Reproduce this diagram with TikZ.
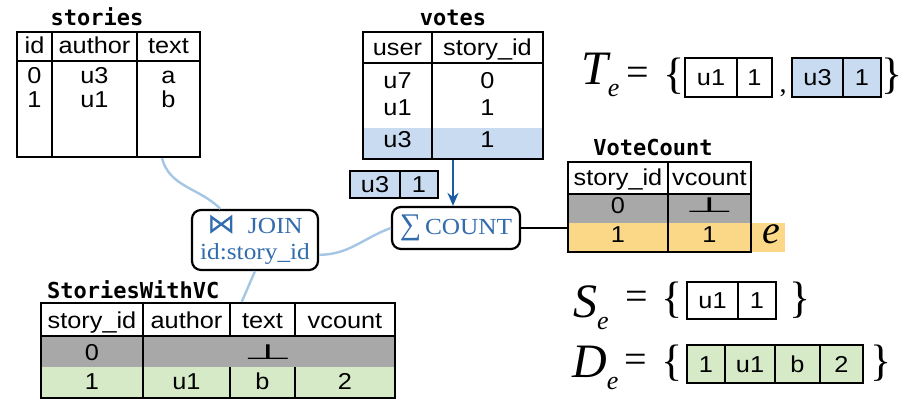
\documentclass[tikz,border=0pt]{standalone}
\usepackage{fontspec}
\setmainfont[FakeStretch=1.1]{Liberation Serif}
\newfontfamily\tabfont[FakeStretch=1.1]{Liberation Sans}
\newfontfamily\titlefont{DejaVu Sans Mono}
\newfontfamily\eqfont{Liberation Serif}
\newfontfamily\symfont{DejaVu Sans}
\usetikzlibrary{arrows.meta}
\definecolor{opblue}{RGB}{50,108,172}
\definecolor{arrowblue}{RGB}{28,92,165}
\definecolor{flowblue}{RGB}{165,198,228}
\definecolor{rowblue}{RGB}{200,219,240}
\definecolor{rowgray}{RGB}{168,168,168}
\definecolor{rowyellow}{RGB}{251,216,135}
\definecolor{rowgreen}{RGB}{214,234,200}

\newcommand{\nullval}{{\symfont\fontsize{30}{30}\selectfont\scalebox{1.9}[0.7]{⊥}}}

\tikzset{
  tbl/.style={draw, line width=2.4pt, inner sep=0pt},
  grid/.style={line width=2.4pt},
  thin grid/.style={line width=1.6pt},
  cell/.style={inner sep=0pt, text height=16pt, text depth=0pt, font=\tabfont\fontsize{23}{23}\selectfont},
  ttl/.style={inner sep=0pt, text height=16pt, text depth=0pt, font=\titlefont\bfseries\fontsize{22}{22}\selectfont},
  op/.style={draw, line width=2.2pt, rounded corners=9pt, fill=white, text=opblue, inner sep=0pt, align=center, font=\fontsize{23}{26}\selectfont},
  flow/.style={draw=flowblue, line width=2.4pt},
  eq/.style={inner sep=0pt, anchor=base, font=\eqfont\fontsize{40}{40}\selectfont},
  brace/.style={inner sep=0pt, anchor=base, font=\eqfont\fontsize{44}{44}\selectfont},
  eqvar/.style={inner sep=0pt, anchor=base west, font=\eqfont\itshape\fontsize{48}{48}\selectfont},
}
\newcommand{\subvar}[2]{#1\raisebox{-12pt}{\fontsize{26}{26}\selectfont #2}}

\begin{document}
\begin{tikzpicture}[x=1pt,y=-1pt]
\useasboundingbox (0,0) rectangle (902,401);

% stories
\node[ttl] (stories-title) at (97,18) {stories};
\node[tbl, minimum width=183pt, minimum height=125pt] (stories) at (108.5,94.5) {};
\draw[grid] (17,61) -- (200,61) (52,32) -- (52,157) (137,32) -- (137,157);
\foreach \x/\h/\a/\b [count=\i] in {34.5/id/0/1,94.5/author/u3/u1,168.5/text/a/b} {
  \node[cell] (stories-h\i) at (\x,46) {\h};
  \node[cell] (stories-a\i) at (\x,76) {\a};
  \node[cell] (stories-b\i) at (\x,100) {\b};
}

% votes
\fill[rowblue] (363,128) rectangle (543,159);
\node[ttl] (votes-title) at (453,18) {votes};
\node[tbl, minimum width=180pt, minimum height=127pt] (votes) at (453,95.5) {};
\draw[grid] (363,63) -- (543,63) (432,32) -- (432,159);
\foreach \x/\h/\a/\b/\c [count=\i] in {397.5/user/u7/u1/u3,487.5/story\_id/0/1/1} {
  \node[cell] (votes-h\i) at (\x,47.5) {\h};
  \node[cell] (votes-a\i) at (\x,81) {\a};
  \node[cell] (votes-b\i) at (\x,107.5) {\b};
  \node[cell] (votes-c\i) at (\x,140) {\c};
}

% new vote
\node[tbl, fill=rowblue, minimum width=88pt, minimum height=27pt] (delta) at (394,184.5) {};
\draw[grid] (400,171) -- (400,198);
\node[cell] (delta-a) at (375,184.5) {u3};
\node[cell] (delta-b) at (419,184.5) {1};

% VoteCount
\fill[rowgray] (568,194) rectangle (751,223);
\fill[rowyellow] (568,223) rectangle (785,252);
\node[ttl] (vc-title) at (653,148) {VoteCount};
\node[tbl, minimum width=183pt, minimum height=90pt] (vc) at (659.5,207) {};
\draw[grid] (568,194) -- (751,194) (668,162) -- (668,252);
\node[cell] (vc-h1) at (618,177) {story\_id};
\node[cell] (vc-h2) at (709.5,177) {vcount};
\node[cell] (vc-a1) at (618,205.5) {0};
\node[cell] (vc-a2) at (709.5,204) {\nullval};
\node[cell] (vc-b1) at (618,234) {1};
\node[cell] (vc-b2) at (709.5,234) {1};
\node[inner sep=0pt, font=\eqfont\itshape\fontsize{40}{40}\selectfont] (vc-e) at (771,234) {e};

% operators
\node[op, minimum width=128pt, minimum height=42pt] (count) at (456,228) {{\eqfont\fontsize{30}{30}\selectfont ∑}\,COUNT};
\node[op, minimum width=126pt, minimum height=60pt] (join) at (255,240) {{\symfont\fontsize{28}{26}\selectfont ⋈}\ \ JOIN\\id:story\_id};

% StoriesWithVC
\fill[rowgray] (41,336) rectangle (395,367);
\fill[rowgreen] (41,367) rectangle (395,398);
\node[ttl, anchor=west] (swvc-title) at (47,290) {StoriesWithVC};
\node[tbl, minimum width=354pt, minimum height=95pt] (swvc) at (218,350.5) {};
\draw[grid] (41,336) -- (395,336) (143,303) -- (143,398) (230,303) -- (230,336) (295,303) -- (295,336);
\draw[thin grid] (230,367) -- (230,398) (295,367) -- (295,398);
\foreach \x/\h/\b [count=\i] in {92/story\_id/1,186.5/author/u1,262.5/text/b,345/vcount/2} {
  \node[cell] (swvc-h\i) at (\x,320) {\h};
  \node[cell] (swvc-b\i) at (\x,381) {\b};
}
\node[cell] (swvc-a1) at (92,352.5) {0};
\node[cell] (swvc-a2) at (268,351) {\nullval};

% connectors
\draw[flow] (stories.-50) to[out=-75,in=135] (join.138);
\draw[flow] (join.-13) to[out=0,in=200] (count.west);
\draw[flow] (join.-90) -- (swvc.64);
\draw[line width=2.6pt, draw=arrowblue, -{Stealth[length=13pt,width=11pt]}] (votes.south) -- (votes.south |- count.north);
\draw[line width=2.2pt] (count.east) -- (count.east -| vc.west);

% T_e
\node[eqvar] (te-T) at (581,85) {\subvar{T}{e}};
\node[eq] (te-eq) at (637.5,86) {=};
\node[brace] (te-open) at (674,89) {\{};
\node[tbl, minimum width=87pt, minimum height=39pt] (te-box1) at (728.5,77.5) {};
\draw[grid] (737,58) -- (737,97);
\node[cell] (te-1a) at (711,77.5) {u1};
\node[cell] (te-1b) at (754.5,77.5) {1};
\node[eq, font=\eqfont\fontsize{28}{28}\selectfont] (te-comma) at (783,93) {,};
\node[tbl, fill=rowblue, minimum width=89pt, minimum height=39pt] (te-box2) at (836.5,77.5) {};
\draw[grid] (843,58) -- (843,97);
\node[cell] (te-2a) at (817.5,77.5) {u3};
\node[cell] (te-2b) at (862,77.5) {1};
\node[brace] (te-close) at (892,89) {\}};

% S_e
\node[eqvar] (se-S) at (573,317) {\subvar{S}{e}};
\node[eq] (se-eq) at (636.5,309) {=};
\node[brace] (se-open) at (672,312) {\{};
\node[tbl, minimum width=89pt, minimum height=37pt] (se-box) at (731.5,300.5) {};
\draw[grid] (738,282) -- (738,319);
\node[cell] (se-a) at (712.5,300.5) {u1};
\node[cell] (se-b) at (757,300.5) {1};
\node[brace] (se-close) at (800,312) {\}};

% D_e
\node[eqvar] (de-D) at (572,377) {\subvar{D}{e}};
\node[eq] (de-eq) at (636,372) {=};
\node[brace] (de-open) at (672,375) {\{};
\node[tbl, fill=rowgreen, minimum width=176pt, minimum height=38pt] (de-box) at (775,364) {};
\draw[grid] (725,345) -- (725,383) (775,345) -- (775,383) (820,345) -- (820,383);
\foreach \x/\t [count=\i] in {706/1,750/u1,797.5/b,841.5/2}
  \node[cell] (de-\i) at (\x,364) {\t};
\node[brace] (de-close) at (881,375) {\}};
\end{tikzpicture}
\end{document}
